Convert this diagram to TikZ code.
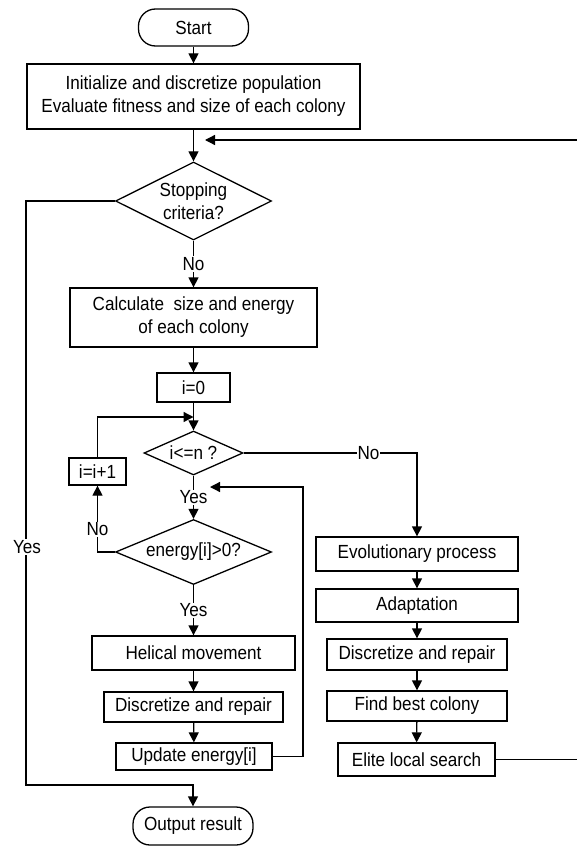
\documentclass[tikz,border=0pt]{standalone}
\usepackage{fontspec}
\setmainfont{Liberation Sans}[FakeStretch=0.9]
\usepackage{tikz}
\usetikzlibrary{arrows.meta,positioning,calc,shapes.geometric}

\begin{document}
\begin{tikzpicture}[x=1pt,y=-1pt,line width=1.3pt,
  font=\fontsize{19}{23}\selectfont,
  box/.style={draw,rectangle,inner sep=0pt,align=center},
  term/.style={draw,rectangle,rounded corners=17pt,inner sep=0pt},
  decision/.style={draw,diamond,inner sep=0pt,align=center},
  arr/.style={-{Triangle[length=10pt,width=10pt]}},
  lbl/.style={fill=white,inner sep=1pt}]
  \useasboundingbox (0,0) rectangle (576,848);
  % Main column
  \node[term,minimum width=110pt,minimum height=37pt] (start) at (193.5,27.5) {Start};
  \node[box,minimum width=333pt,minimum height=65pt] (init) at (193.5,96.5)
    {Initialize and discretize population\\Evaluate fitness and size of each colony};
  \node[decision,aspect=2,minimum width=156pt,minimum height=78pt] (stop) at (193.5,201)
    {Stopping\\criteria?};
  \node[box,minimum width=247pt,minimum height=59pt] (calc) at (193.5,317.5)
    {Calculate\ \ size and energy\\of each colony};
  \node[box,minimum width=73pt,minimum height=29pt] (izero) at (193.5,387.5) {i=0};
  \node[decision,aspect=2.25,minimum width=99pt,minimum height=44pt] (cond) at (193.5,453) {i<=n ?};
  \node[box,minimum width=57pt,minimum height=27pt] (inc) at (97.5,471.5) {i=i+1};
  \node[decision,aspect=2.4,minimum width=156pt,minimum height=65pt] (energy) at (193.5,552) {energy[i]>0?};
  \node[box,minimum width=203pt,minimum height=34pt] (helix) at (193.5,653) {Helical movement};
  \node[box,minimum width=179pt,minimum height=30pt] (discA) at (193.5,707) {Discretize and repair};
  \node[box,minimum width=156pt,minimum height=27pt] (upd) at (194,756.5) {Update energy[i]};
  \node[term,minimum width=120pt,minimum height=38pt] (out) at (193,826) {Output result};
  % Right column
  \node[box,minimum width=202pt,minimum height=34pt] (evo) at (417,554) {Evolutionary process};
  \node[box,minimum width=202pt,minimum height=33pt] (adapt) at (417,605.5) {Adaptation};
  \node[box,minimum width=180pt,minimum height=31pt] (discB) at (417,654.5) {Discretize and repair};
  \node[box,minimum width=180pt,minimum height=30pt] (best) at (417,706) {Find best colony};
  \node[box,minimum width=157pt,minimum height=33pt] (elite) at (416.5,759.5) {Elite local search};
  % Corner points
  \coordinate (rtop) at (579,140);
  \coordinate (rback) at (205,140);
  \coordinate (lbot) at (26,785);
  \coordinate (jn) at (193.5,417);
  \coordinate (ucorner) at (303,487);
  \coordinate (uback) at (210,487);
  % Connectors
  \draw[arr] (start) -- (init);
  \draw[arr] (init) -- (stop);
  \draw[arr] (elite.east) -| (rtop) -- (rback);
  \draw[arr] (stop.west) -| (lbot) -| (out);
  \node[lbl] (yesA) at (27,547) {Yes};
  \draw[arr] (stop) -- node[lbl] (noA) {No} (calc);
  \draw[arr] (calc) -- (izero);
  \draw[arr] (izero) -- (cond);
  \draw[arr] (inc) |- (jn);
  \draw[arr] (cond.east) -| node[lbl,pos=0.36] (noB) {No} (evo);
  \draw[arr] (cond) -- node[lbl] (yesB) {Yes} (energy);
  \draw[arr] (energy.west) -| node[lbl,pos=0.67] (noC) {No} (inc);
  \draw[arr] (energy) -- node[lbl] (yesC) {Yes} (helix);
  \draw[arr] (helix) -- (discA);
  \draw[arr] (discA) -- (upd);
  \draw[arr] (upd.east) -| (ucorner) -- (uback);
  \draw[arr] (evo) -- (adapt);
  \draw[arr] (adapt) -- (discB);
  \draw[arr] (discB) -- (best);
  \draw[arr] (best) -- (elite);
\end{tikzpicture}
\end{document}
